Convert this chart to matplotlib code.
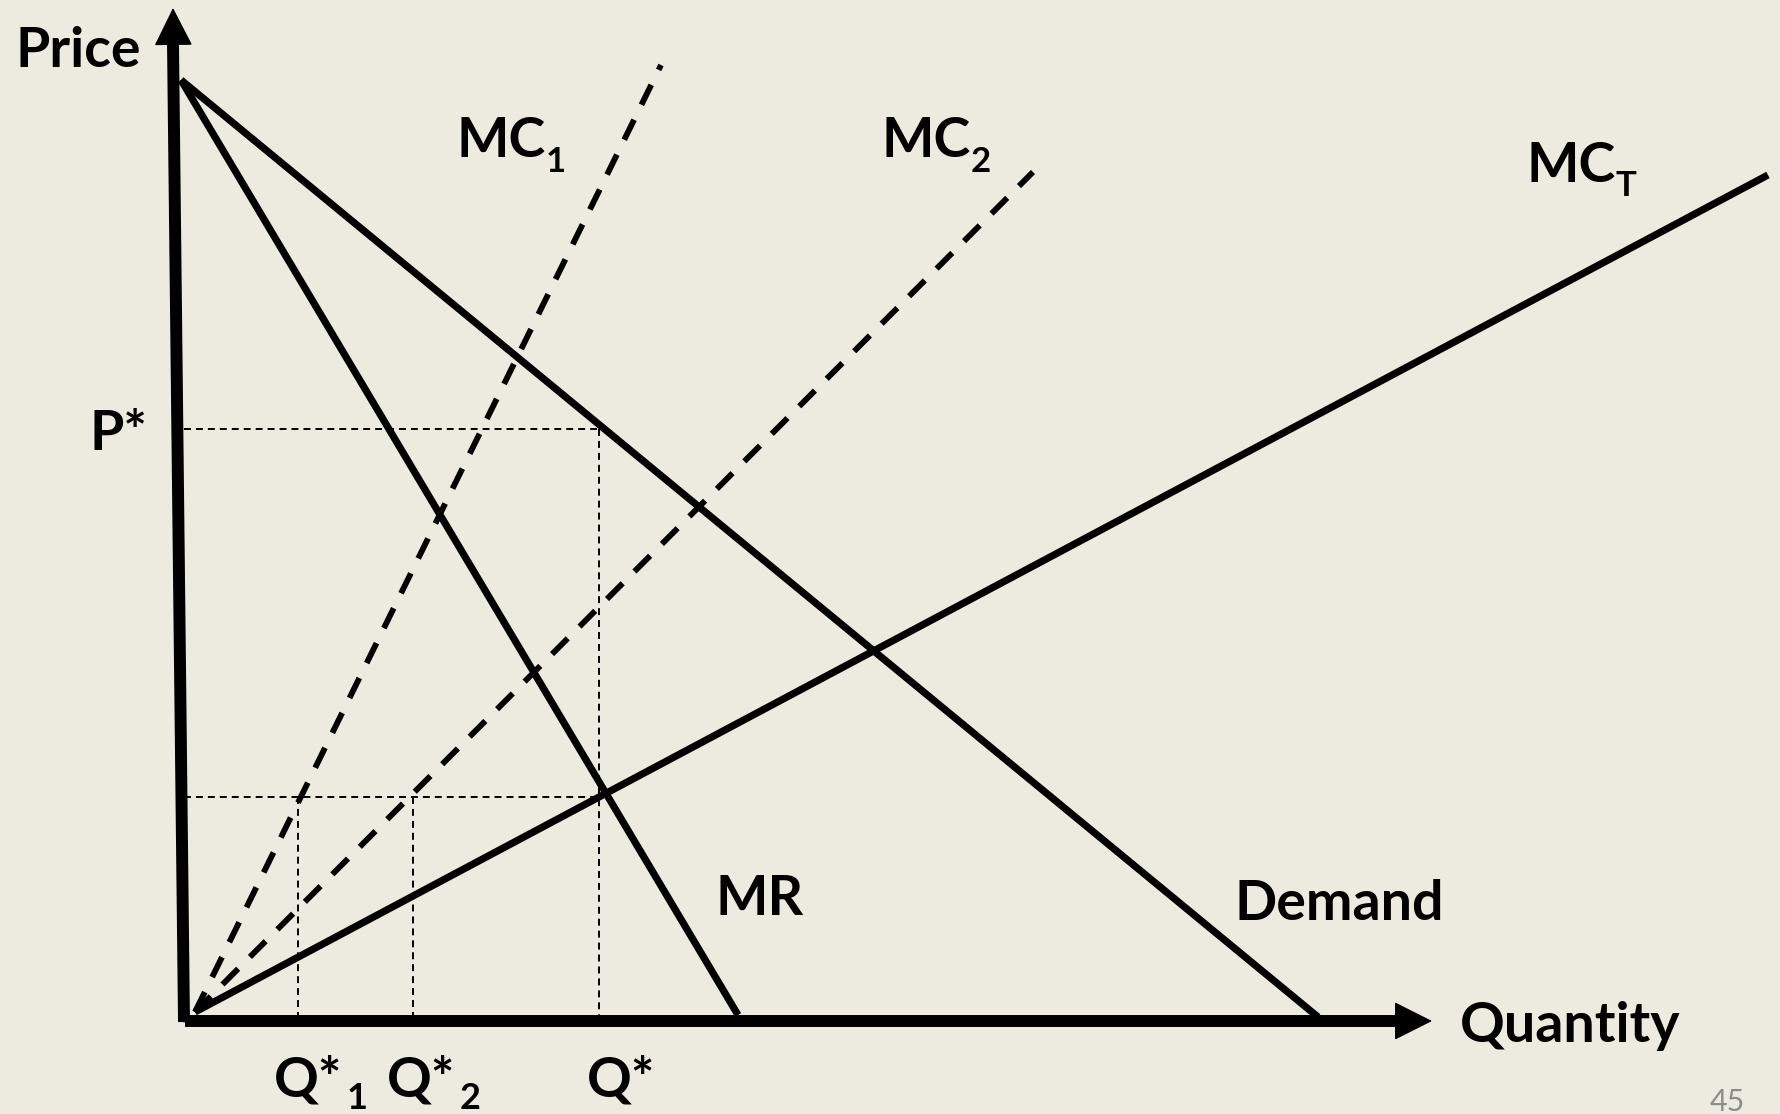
import matplotlib
matplotlib.use("Agg")
import matplotlib.pyplot as plt

# --- Settings ---
plt.rcParams['font.family'] = ['Lato', 'DejaVu Sans']
plt.rcParams['lines.scale_dashes'] = False
bg = '#EDEBE0'
ink = 'black'

# --- Curves (quantity, price) ---
price_axis_q = [0.0, -1.1]
price_axis_p = [-0.2, 101.2]
qty_axis_q = [0.1, 124.8]
qty_axis_p = [-0.1, -0.1]

demand_q = [-0.3, 113.4]
demand_p = [94.0, 0.3]
mr_q = [-0.3, 55.4]
mr_p = [94.0, 0.5]
mc1_q = [1.1, 47.7]
mc1_p = [0.8, 95.5]
mc2_q = [1.1, 84.9]
mc2_p = [0.8, 84.8]
mct_q = [1.1, 158.4]
mct_p = [0.8, 84.5]

# equilibrium levels
p_star = 59.1
p_low = 22.3
q_stars = [11.4, 22.9, 41.5]   # Q*1, Q*2, Q*

# --- Labels: (text, subscript, q, p, sub baseline p) ---
curve_labels = [
    ("MC", "1", 31.7, 86.3, 84.8),
    ("MC", "2", 74.2, 86.3, 84.8),
    ("MC", "T", 138.7, 83.8, 82.4),
    ("MR", "", 57.6, 10.5, None),
    ("Demand", "", 115.5, 10.0, None),
]
q_labels = [("1", 12.4), ("2", 23.7), ("", 43.7)]
q_label_p = -7.6
q_sub_p = -8.9

fig = plt.figure(figsize=(17.81, 11.14), dpi=100, facecolor=bg)
ax = fig.add_axes([0, 0, 1, 1])
ax.set_facecolor(bg)
ax.set_xlim(-18.4, 159.7)
ax.set_ylim(-9.4, 102.0)
ax.axis('off')

# thin guide lines
guide = dict(color=ink, lw=1.4, dashes=(5, 3.6))
ax.plot([0, q_stars[2]], [p_star, p_star], **guide)
ax.plot([0, q_stars[2] + 0.3], [p_low, p_low], **guide)
for q in q_stars[:2]:
    ax.plot([q, q], [p_low, 0], **guide)
ax.plot([q_stars[2], q_stars[2]], [p_star, 0], **guide)

# marginal cost of each plant (dashed)
ax.plot(mc1_q, mc1_p, color=ink, lw=4.2, dashes=(16, 12))
ax.plot(mc2_q, mc2_p, color=ink, lw=4.2, dashes=(16, 12))

# solid curves
for qs, ps in [(demand_q, demand_p), (mr_q, mr_p), (mct_q, mct_p)]:
    ax.plot(qs, ps, color=ink, lw=5.2, solid_capstyle='butt')

# axes with arrow heads
head = 3.5
ax.plot(price_axis_q, [price_axis_p[0], price_axis_p[1] - head], color=ink, lw=8.6,
        solid_capstyle='butt')
ax.plot([qty_axis_q[0], qty_axis_q[1] - head], qty_axis_p, color=ink, lw=8.6,
        solid_capstyle='butt')
arrow = dict(arrowstyle='-|>,head_length=25,head_width=12.6', color=ink, lw=1,
             mutation_scale=1, shrinkA=0, shrinkB=0)
ax.annotate('', xy=(price_axis_q[1], price_axis_p[1]),
            xytext=(price_axis_q[0], price_axis_p[0]), arrowprops=arrow)
ax.annotate('', xy=(qty_axis_q[1], qty_axis_p[1]),
            xytext=(qty_axis_q[0], qty_axis_p[0]), arrowprops=arrow)

bold = dict(fontsize=40, fontweight='bold', color=ink, va='baseline')
ax.text(-10.6, 95.3, "Price", ha='center', **bold)
ax.text(-6.6, 57.0, "P*", ha='center', **bold)
ax.text(138.6, -2.2, "Quantity", ha='center', **bold)

for txt, sub, q, p, sp in curve_labels:
    t = ax.text(q, p, txt, ha='center', **bold)
    if sub:
        ax.annotate(sub, xy=(1, sp), xycoords=(t, 'data'), xytext=(0, 0),
                    textcoords='offset points', fontsize=25, fontweight='bold',
                    color=ink, va='baseline', ha='left')

for sub, q in q_labels:
    t = ax.text(q, q_label_p, "Q*", ha='center', **bold)
    if sub:
        ax.annotate(sub, xy=(1, q_sub_p), xycoords=(t, 'data'), xytext=(3, 0),
                    textcoords='offset points', fontsize=26, fontweight='bold',
                    color=ink, va='baseline', ha='left')

# slide number
ax.text(154.3, -9.1, "45", ha='center', va='baseline', fontsize=22, color='#8C8C8C')

fig.savefig("out.png", dpi=100, facecolor=bg)
